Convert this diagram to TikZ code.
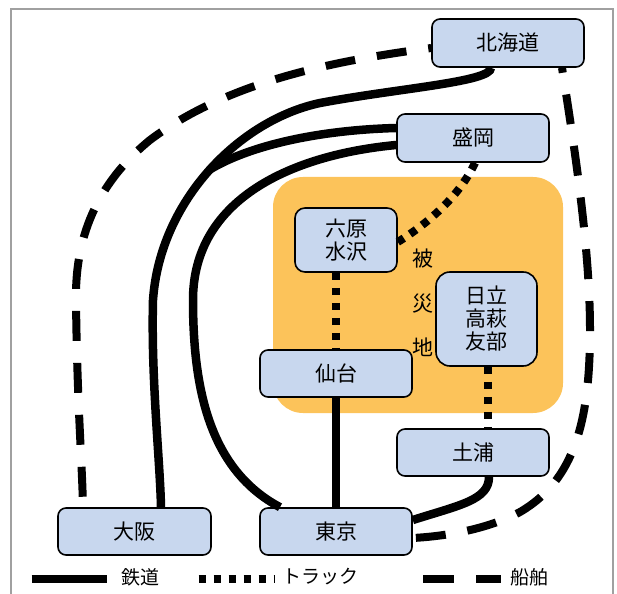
\documentclass[tikz,border=0pt]{standalone}
\usepackage{fontspec}
\newfontfamily\jp{Noto Sans CJK JP}
\definecolor{boxblue}{RGB}{200,215,238}
\definecolor{disaster}{RGB}{252,195,90}
\definecolor{framegray}{RGB}{160,160,160}
\begin{document}
\begin{tikzpicture}[x=1pt,y=-1pt,
  station/.style={draw=black,line width=1.6pt,fill=boxblue,rounded corners=8pt,inner sep=0pt,
    font=\jp\fontsize{21}{23}\selectfont,align=center,text=black},
  rail/.style={line width=8.5pt},
  truck/.style={line width=8pt,dash pattern=on 7.5pt off 7.5pt},
  ship/.style={line width=8pt,dash pattern=on 30pt off 22pt},
  lbl/.style={font=\jp\fontsize{21}{23}\selectfont,inner sep=0pt,text=black},
  legtext/.style={font=\jp\fontsize{19}{21}\selectfont,inner sep=0pt,text=black}
]
\useasboundingbox (0,0) rectangle (617,593);
\clip (0,0) rectangle (617,593);
\draw[framegray,line width=1.5pt] (11,620) -- (11,9) -- (613,9) -- (613,620);
% disaster area
\fill[disaster,rounded corners=30pt] (273,177) rectangle (563,413);
% stations
\node[station,minimum width=152pt,minimum height=48pt] (hok) at (508,43) {北海道};
\node[station,minimum width=152pt,minimum height=48pt] (mor) at (473,138) {盛岡};
\node[station,minimum width=102pt,minimum height=64pt,rounded corners=10pt] (rok) at (346,240) {六原\\水沢};
\node[station,minimum width=101pt,minimum height=94pt,rounded corners=14pt] (hit) at (486.5,319) {日立\\高萩\\友部};
\node[station,minimum width=152pt,minimum height=47pt] (sen) at (336,373.5) {仙台};
\node[station,minimum width=152pt,minimum height=47pt] (tsu) at (473,452.5) {土浦};
\node[station,minimum width=152pt,minimum height=47pt] (tok) at (336,531.5) {東京};
\node[station,minimum width=153pt,minimum height=47pt] (osa) at (134.5,531.5) {大阪};
\node[lbl,align=center,font=\jp\fontsize{21}{44.7}\selectfont] (area) at (423,303) {被\\災\\地};
% railways
\coordinate (j) at (209,170);
\draw[rail] ([xshift=-17pt]hok.south) .. controls (491,82) and (400,88) .. (320,103)
  .. controls (240,120) and (160,200) .. (153,300)
  .. controls (151,380) and (160,460) .. ([xshift=26.5pt]osa.north);
\draw[rail] ([yshift=10pt]mor.west) .. controls (320,130) and (250,145) .. (j);
\draw[rail] ([yshift=-7pt]mor.west) .. controls (290,155) and (193,200) .. (193,300)
  .. controls (193,390) and (210,470) .. ([xshift=-56pt]tok.north);
\draw[rail] (sen.south) -- (tok.north);
\draw[rail] ([xshift=16pt]tsu.south) .. controls (489,500) and (460,505) .. ([yshift=11.5pt]tok.east);
% trucks
\draw[truck] ([xshift=2pt]mor.south) .. controls (460,195) and (430,222) .. ([yshift=-2pt]rok.east);
\draw[truck] (sen.north |- rok.south) -- (sen.north);
\draw[truck] ([xshift=1.5pt]hit.south) -- ([xshift=1.5pt]hit.south |- tsu.north);
% ships
\draw[ship,dash phase=27pt] ([yshift=-5pt]hok.west) .. controls (340,60) and (230,80) .. (150,140)
  .. controls (95,185) and (75,240) .. (76,300)
  .. controls (77,400) and (82,460) .. ([xshift=-51.5pt]osa.north);
\draw[ship,dash phase=25pt] ([xshift=54pt]hok.south) .. controls (575,150) and (590,250) .. (590,330)
  .. controls (590,420) and (575,480) .. (520,512)
  .. controls (490,528) and (450,536) .. ([yshift=-6.5pt]tok.east);
% legend
\coordinate (la1) at (31.6,579); \coordinate (lb1) at (107.4,579);
\coordinate (la2) at (198.6,579); \coordinate (lb2) at (275,579);
\coordinate (la3) at (423,579); \coordinate (lb3) at (500.6,579);
\draw[rail,line width=8pt] (la1) -- (lb1);
\draw[truck] (la2) -- (lb2);
\draw[ship,dash pattern=on 31pt off 22pt] (la3) -- (lb3);
\node[legtext,anchor=west] (t1) at (121,577) {鉄道};
\node[legtext,anchor=west] (t2) at (282,577) {トラック};
\node[legtext,anchor=west] (t3) at (510,577) {船舶};
\end{tikzpicture}
\end{document}
